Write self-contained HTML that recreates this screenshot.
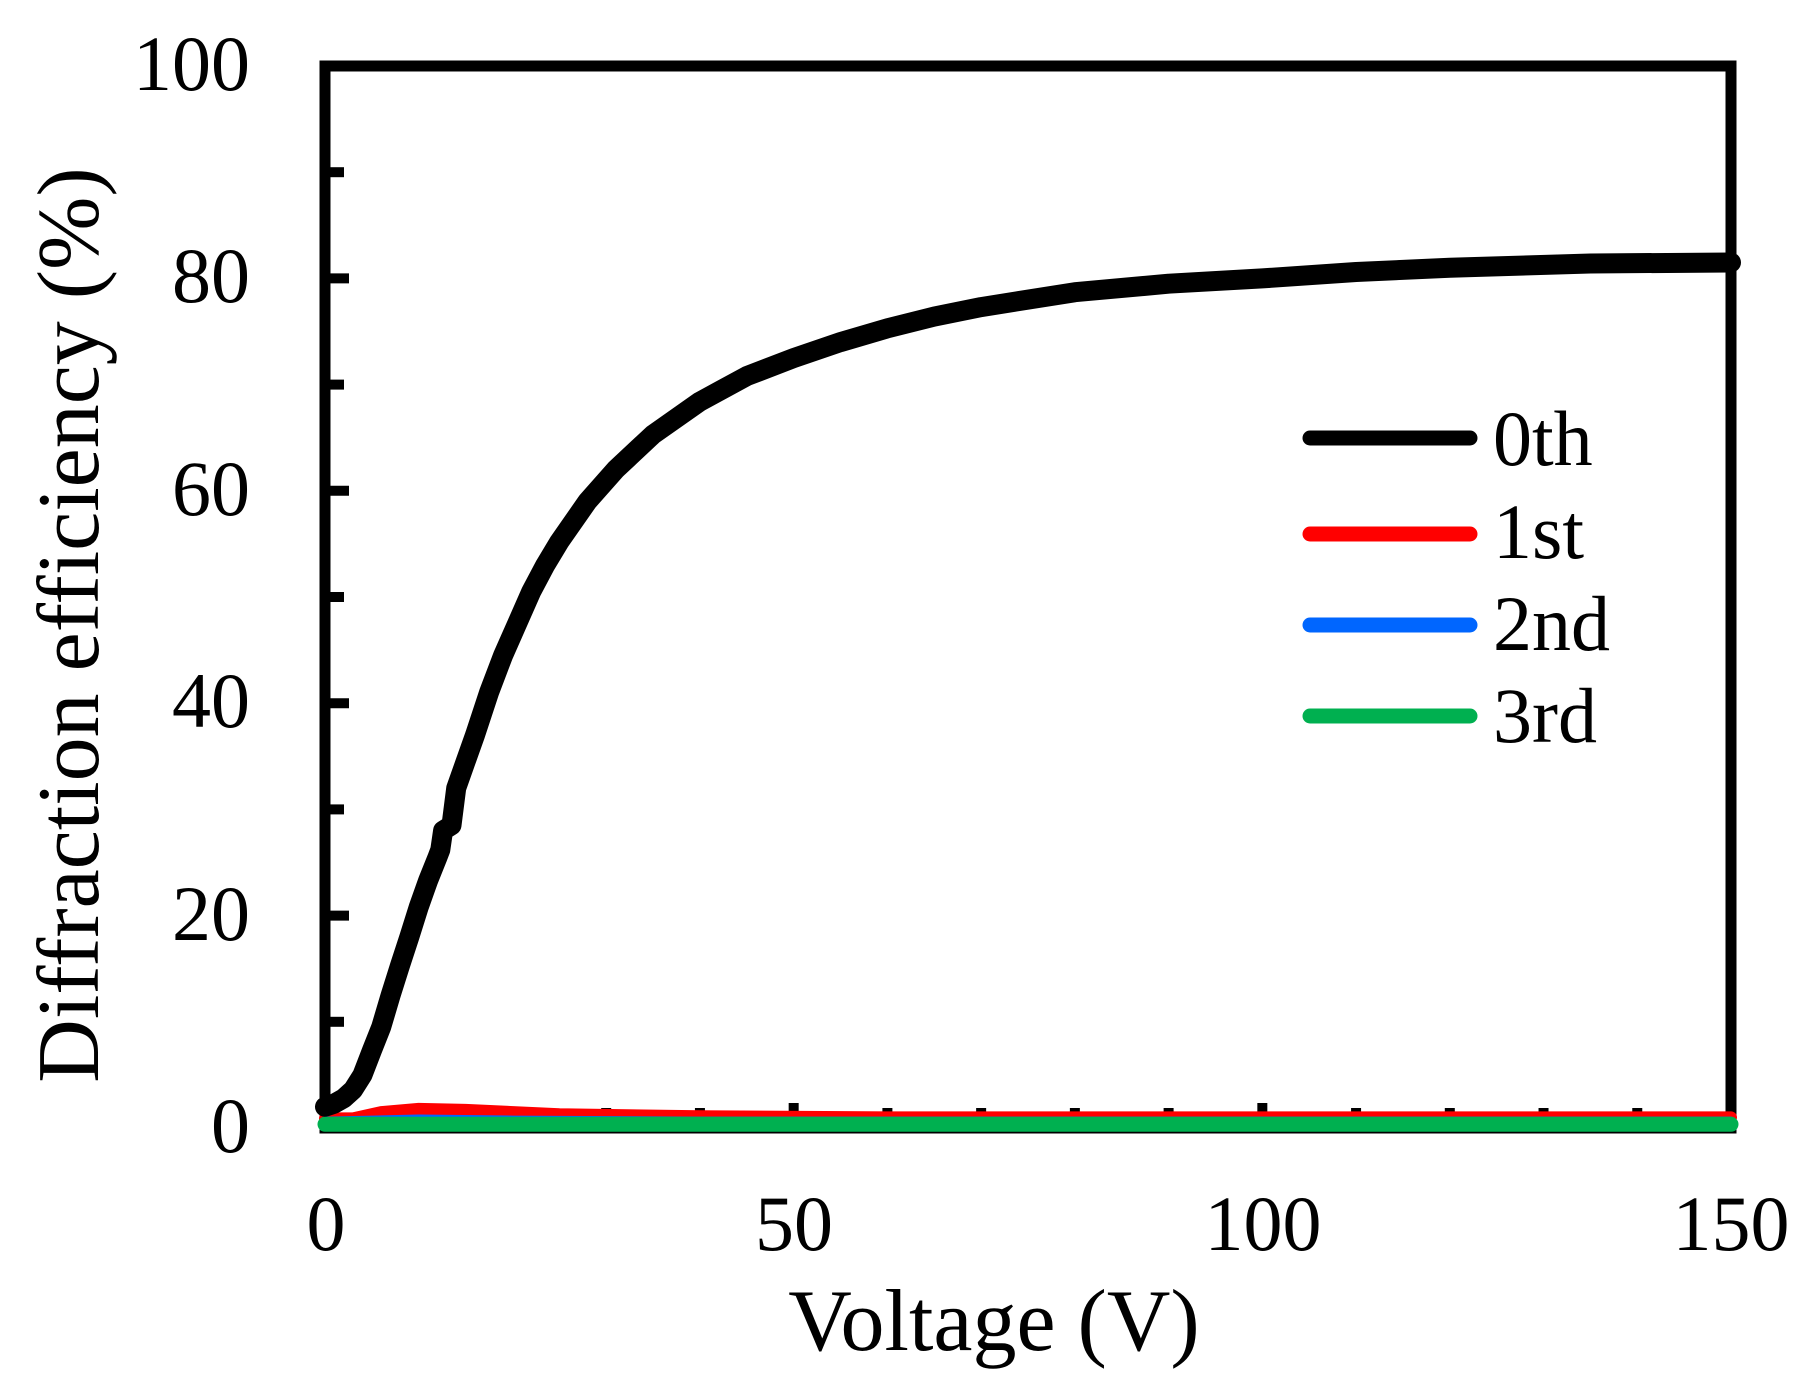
<!DOCTYPE html>
<html><head><meta charset="utf-8"><style>
html,body{margin:0;padding:0;background:#fff}
svg{display:block}
text{font-family:"Liberation Serif",serif;fill:#000}
</style></head><body>
<svg width="1817" height="1397" viewBox="0 0 1817 1397" xmlns="http://www.w3.org/2000/svg">
<g id="ticks" stroke="#000" stroke-width="10"></g>
<rect x="325" y="66" width="1406" height="1062" fill="none" stroke="#000" stroke-width="11"/>
<g id="data" fill="none" stroke-linejoin="round" stroke-linecap="round"></g>
<g font-size="78" text-anchor="end">
<text x="250" y="1152">0</text>
<text x="250" y="940">20</text>
<text x="250" y="727">40</text>
<text x="250" y="515">60</text>
<text x="250" y="302">80</text>
<text x="250" y="90">100</text>
</g>
<g font-size="78" text-anchor="middle">
<text x="326" y="1250">0</text>
<text x="794" y="1250">50</text>
<text x="1263" y="1250">100</text>
<text x="1731" y="1250">150</text>
</g>
<text x="994" y="1350" font-size="88" text-anchor="middle">Voltage (V)</text>
<text transform="translate(98,625) rotate(-90)" font-size="88" text-anchor="middle">Diffraction efficiency (%)</text>
<g stroke-width="15" stroke-linecap="round">
<line x1="1310" y1="438" x2="1470" y2="438" stroke="#000"/>
<line x1="1310" y1="534" x2="1470" y2="534" stroke="#ff0000"/>
<line x1="1310" y1="625" x2="1470" y2="625" stroke="#0066ff"/>
<line x1="1310" y1="716" x2="1470" y2="716" stroke="#00b050"/>
</g>
<g font-size="78">
<text x="1493" y="465">0th</text>
<text x="1493" y="558">1st</text>
<text x="1493" y="650">2nd</text>
<text x="1493" y="742">3rd</text>
</g>
</svg>
<script>
var X=function(v){return 325+v*1406/150},Y=function(p){return 1128-p*10.62};
var t=document.getElementById('ticks'),s='';
for(var i=1;i<10;i++){s+='<line x1="330" y1="'+Y(i*10)+'" x2="'+(i%2?344:349)+'" y2="'+Y(i*10)+'"/>';}
for(var i=1;i<15;i++){s+='<line x1="'+X(i*10)+'" y1="1122" x2="'+X(i*10)+'" y2="'+(i%5?1108:1103)+'"/>';}
t.innerHTML=s;
function path(pts){var d='';pts.forEach(function(p,i){d+=(i?'L':'M')+X(p[0]).toFixed(1)+' '+Y(p[1]).toFixed(1);});return d;}
var k=[[0,2],[1,2.3],[2,2.8],[3,3.6],[4,5],[5,7.3],[6,9.5],[7,12.5],[8,15.3],[9,18],[10,20.8],[11,23.3],[12,25.5],[12.3,26.2],[12.6,28],[13.5,28.5],[14,32],[15,34.5],[16,37],[17.5,41],[19,44.5],[20.5,47.5],[22,50.5],[23.5,53],[25,55.2],[28,59],[31,62],[35,65.3],[40,68.4],[45,70.8],[50,72.5],[55,74],[60,75.3],[65,76.4],[70,77.3],[80,78.7],[90,79.5],[100,80],[110,80.6],[120,81],[135,81.4],[150,81.5]];
var r=[[0,0.9],[3,0.9],[6,1.5],[10,1.8],[15,1.7],[25,1.3],[40,1.1],[60,1.0],[150,1.0]];
var b=[[0,0.6],[5,0.7],[10,0.8],[20,0.7],[40,0.6],[150,0.6]];
var g=[[0,0.35],[150,0.35]];
document.getElementById('data').innerHTML=
'<path d="'+path(r)+'" stroke="#ff0000" stroke-width="12"/>'+
'<path d="'+path(b)+'" stroke="#0066ff" stroke-width="10"/>'+
'<path d="'+path(g)+'" stroke="#00b050" stroke-width="15"/>'+
'<path d="'+path(k)+'" stroke="#000" stroke-width="20"/>';
</script>
</body></html>
